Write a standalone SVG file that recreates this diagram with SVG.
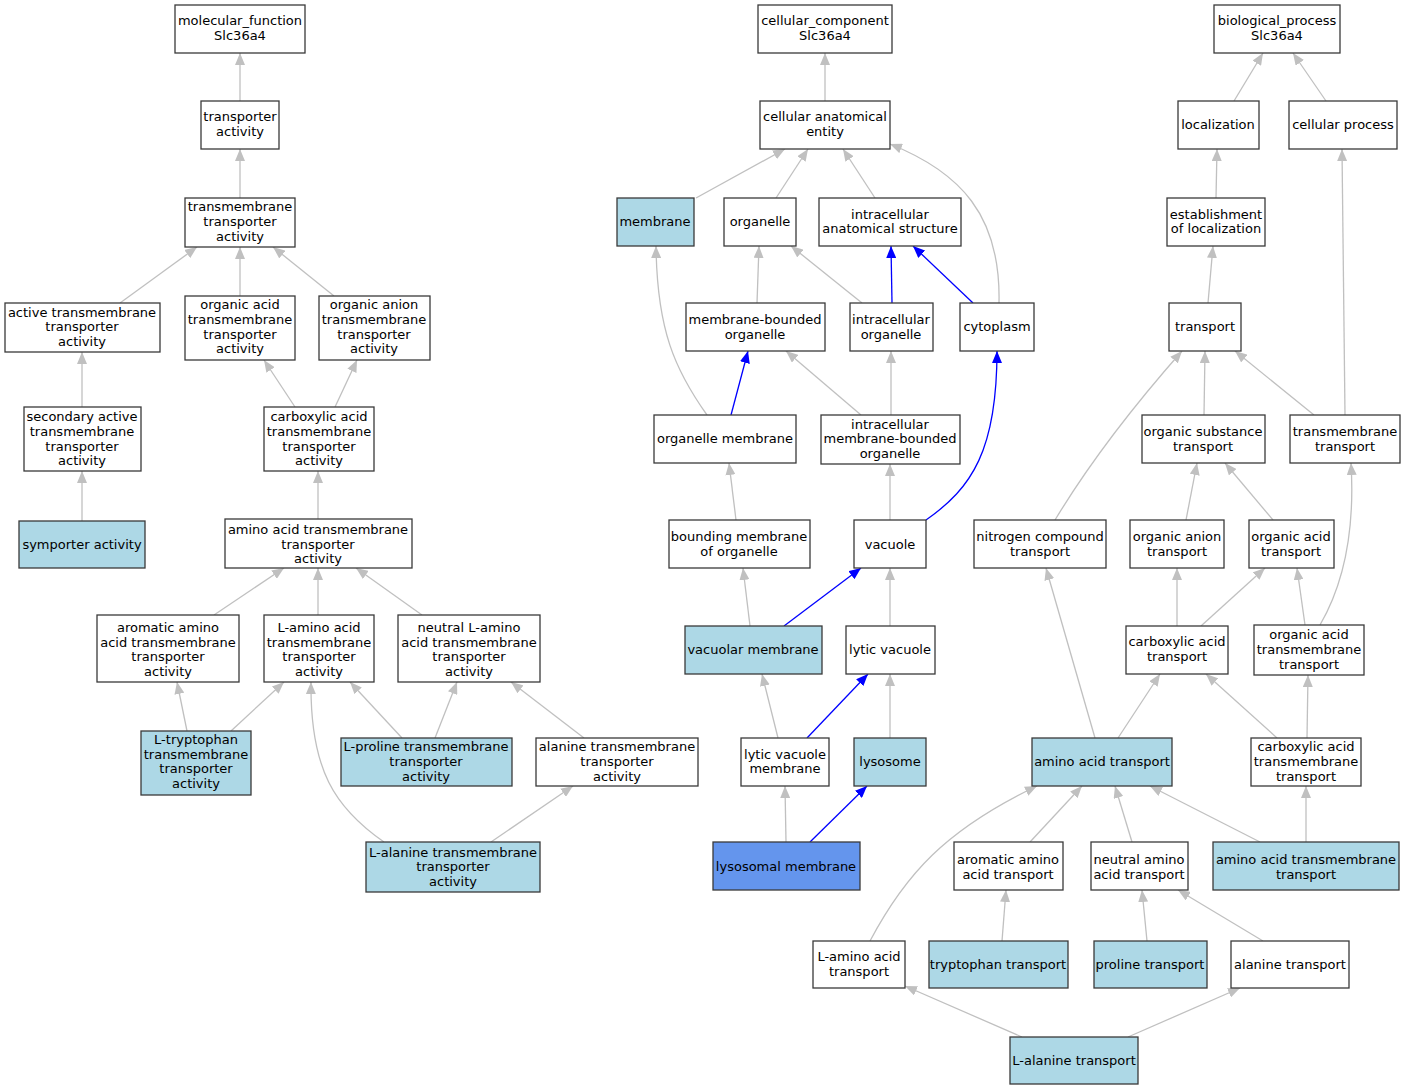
<svg xmlns="http://www.w3.org/2000/svg" width="1405" height="1091" viewBox="0 0 1405 1091">
<style>
rect{fill:#fff;stroke:#3a3a3a;stroke-width:1.3}
rect.lb{fill:#add8e6}
rect.cb{fill:#6495ed}
text{font-family:"DejaVu Sans",sans-serif;font-size:13px;fill:#000;text-anchor:middle}
.e path{fill:none;stroke:#c0c0c0;stroke-width:1.3;marker-end:url(#ag)}
.e path.b{stroke:#0000ff;marker-end:url(#ab)}
</style>
<defs>
<marker id="ag" viewBox="0 0 12 10" refX="12" refY="5" markerWidth="12" markerHeight="10" markerUnits="userSpaceOnUse" orient="auto"><path d="M0,0 L12,5 L0,10 z" fill="#c0c0c0"/></marker>
<marker id="ab" viewBox="0 0 12 10" refX="12" refY="5" markerWidth="12" markerHeight="10" markerUnits="userSpaceOnUse" orient="auto"><path d="M0,0 L12,5 L0,10 z" fill="#0000ff"/></marker>
</defs>
<rect x="0" y="0" width="1405" height="1091" style="fill:#fff;stroke:none"/>
<g class="e" id="connectors">
<path d="M240,101 L240,53"/>
<path d="M240,198 L240,149"/>
<path d="M120,303 L197,247"/>
<path d="M240,296 L240,247"/>
<path d="M334,296 L273,247"/>
<path d="M82,407 L82,352"/>
<path d="M295,407 L264,360"/>
<path d="M335,407 L357,360"/>
<path d="M82,521 L82,471"/>
<path d="M318,519 L318,471"/>
<path d="M214,615 L284,568"/>
<path d="M318,615 L318,568"/>
<path d="M422,615 L356,568"/>
<path d="M187,731 L177,682"/>
<path d="M231,731 L284,682"/>
<path d="M402,738 L350,682"/>
<path d="M435,738 L457,682"/>
<path d="M584,738 L511,682"/>
<path d="M384,842 C335,808 310,770 311,682"/>
<path d="M491,842 L573,786"/>
<path d="M825,101 L825,53"/>
<path d="M696,198 L785,149"/>
<path d="M776,198 L808,149"/>
<path d="M875,198 L843,149"/>
<path d="M999,303 C1001,215 960,172 890,144"/>
<path d="M757,303 L759,246"/>
<path d="M862,303 L791,246"/>
<path class="b" d="M892,303 L891,246"/>
<path class="b" d="M973,303 L913,246"/>
<path d="M707,415 C675,370 657,330 656,246"/>
<path class="b" d="M731,415 L748,351"/>
<path d="M861,415 L786,351"/>
<path d="M891,415 L891,351"/>
<path d="M736,520 L729,463"/>
<path d="M890,520 L890,464"/>
<path class="b" d="M926,520 C972,488 997,450 997,351"/>
<path d="M750,626 L743,568"/>
<path class="b" d="M784,626 L861,568"/>
<path d="M890,626 L890,568"/>
<path d="M778,738 L762,674"/>
<path class="b" d="M807,738 L868,674"/>
<path d="M890,738 L890,674"/>
<path d="M786,842 L785,786"/>
<path class="b" d="M810,842 L867,786"/>
<path d="M1234,101 L1263,53"/>
<path d="M1326,101 L1293,53"/>
<path d="M1216,198 L1217,149"/>
<path d="M1208,303 L1213,246"/>
<path d="M1204,415 L1205,351"/>
<path d="M1314,415 L1235,351"/>
<path d="M1345,415 L1342,149"/>
<path d="M1055,520 C1090,462 1130,410 1182,351"/>
<path d="M1186,520 L1197,463"/>
<path d="M1273,520 L1225,463"/>
<path d="M1320,625 C1345,582 1355,530 1351,463"/>
<path d="M1177,626 L1177,568"/>
<path d="M1201,626 L1265,568"/>
<path d="M1305,625 L1297,568"/>
<path d="M1095,738 L1046,568"/>
<path d="M1118,738 L1160,674"/>
<path d="M1277,738 L1206,674"/>
<path d="M1307,738 L1308,675"/>
<path d="M1030,842 L1082,786"/>
<path d="M1132,842 L1115,786"/>
<path d="M1260,842 L1150,786"/>
<path d="M1306,842 L1306,786"/>
<path d="M870,941 C905,875 945,830 1037,786"/>
<path d="M1002,941 L1006,890"/>
<path d="M1147,941 L1142,890"/>
<path d="M1263,941 L1178,890"/>
<path d="M1022,1037 L905,986"/>
<path d="M1128,1037 L1240,988"/>
</g>

<g id="n_mf"><rect x="175" y="5" width="130" height="48"/><text x="240" y="25">molecular_function</text><text x="240" y="40">Slc36a4</text></g>
<g id="n_ta"><rect x="201" y="101" width="78" height="48"/><text x="240" y="121">transporter</text><text x="240" y="136">activity</text></g>
<g id="n_tmta"><rect x="185" y="198" width="110" height="49"/><text x="240" y="211">transmembrane</text><text x="240" y="226">transporter</text><text x="240" y="241">activity</text></g>
<g id="n_atta"><rect x="5" y="303" width="155" height="49"/><text x="82" y="317">active transmembrane</text><text x="82" y="331">transporter</text><text x="82" y="346">activity</text></g>
<g id="n_oatta"><rect x="185" y="296" width="110" height="64"/><text x="240" y="309">organic acid</text><text x="240" y="324">transmembrane</text><text x="240" y="339">transporter</text><text x="240" y="353">activity</text></g>
<g id="n_oanta"><rect x="319" y="296" width="111" height="64"/><text x="374" y="309">organic anion</text><text x="374" y="324">transmembrane</text><text x="374" y="339">transporter</text><text x="374" y="353">activity</text></g>
<g id="n_sata"><rect x="24" y="407" width="117" height="64"/><text x="82" y="421">secondary active</text><text x="82" y="436">transmembrane</text><text x="82" y="451">transporter</text><text x="82" y="465">activity</text></g>
<g id="n_catta"><rect x="264" y="407" width="110" height="64"/><text x="319" y="421">carboxylic acid</text><text x="319" y="436">transmembrane</text><text x="319" y="451">transporter</text><text x="319" y="465">activity</text></g>
<g id="n_sym"><rect class="lb" x="19" y="521" width="126" height="47"/><text x="82" y="549">symporter activity</text></g>
<g id="n_aatta"><rect x="225" y="519" width="187" height="49"/><text x="318" y="534">amino acid transmembrane</text><text x="318" y="549">transporter</text><text x="318" y="563">activity</text></g>
<g id="n_arom"><rect x="97" y="615" width="142" height="67"/><text x="168" y="632">aromatic amino</text><text x="168" y="647">acid transmembrane</text><text x="168" y="661">transporter</text><text x="168" y="676">activity</text></g>
<g id="n_laa"><rect x="264" y="615" width="110" height="67"/><text x="319" y="632">L-amino acid</text><text x="319" y="647">transmembrane</text><text x="319" y="661">transporter</text><text x="319" y="676">activity</text></g>
<g id="n_nla"><rect x="398" y="615" width="142" height="67"/><text x="469" y="632">neutral L-amino</text><text x="469" y="647">acid transmembrane</text><text x="469" y="661">transporter</text><text x="469" y="676">activity</text></g>
<g id="n_ltrp"><rect class="lb" x="141" y="731" width="110" height="64"/><text x="196" y="744">L-tryptophan</text><text x="196" y="759">transmembrane</text><text x="196" y="773">transporter</text><text x="196" y="788">activity</text></g>
<g id="n_lpro"><rect class="lb" x="341" y="738" width="171" height="48"/><text x="426" y="751">L-proline transmembrane</text><text x="426" y="766">transporter</text><text x="426" y="781">activity</text></g>
<g id="n_ala"><rect x="536" y="738" width="162" height="48"/><text x="617" y="751">alanine transmembrane</text><text x="617" y="766">transporter</text><text x="617" y="781">activity</text></g>
<g id="n_lala"><rect class="lb" x="366" y="842" width="174" height="50"/><text x="453" y="857">L-alanine transmembrane</text><text x="453" y="871">transporter</text><text x="453" y="886">activity</text></g>

<g id="n_cc"><rect x="758" y="5" width="134" height="48"/><text x="825" y="25">cellular_component</text><text x="825" y="40">Slc36a4</text></g>
<g id="n_cae"><rect x="760" y="101" width="130" height="48"/><text x="825" y="121">cellular anatomical</text><text x="825" y="136">entity</text></g>
<g id="n_mem"><rect class="lb" x="617" y="198" width="77" height="48"/><text x="655" y="226">membrane</text></g>
<g id="n_org"><rect x="724" y="198" width="72" height="48"/><text x="760" y="226">organelle</text></g>
<g id="n_ias"><rect x="819" y="198" width="142" height="48"/><text x="890" y="219">intracellular</text><text x="890" y="233">anatomical structure</text></g>
<g id="n_mbo"><rect x="686" y="303" width="139" height="48"/><text x="755" y="324">membrane-bounded</text><text x="755" y="339">organelle</text></g>
<g id="n_io"><rect x="850" y="303" width="83" height="48"/><text x="891" y="324">intracellular</text><text x="891" y="339">organelle</text></g>
<g id="n_cyt"><rect x="960" y="303" width="74" height="48"/><text x="997" y="331">cytoplasm</text></g>
<g id="n_om"><rect x="654" y="415" width="142" height="48"/><text x="725" y="443">organelle membrane</text></g>
<g id="n_imbo"><rect x="821" y="415" width="139" height="49"/><text x="890" y="429">intracellular</text><text x="890" y="443">membrane-bounded</text><text x="890" y="458">organelle</text></g>
<g id="n_bmo"><rect x="669" y="520" width="141" height="48"/><text x="739" y="541">bounding membrane</text><text x="739" y="556">of organelle</text></g>
<g id="n_vac"><rect x="854" y="520" width="72" height="48"/><text x="890" y="549">vacuole</text></g>
<g id="n_vm"><rect class="lb" x="685" y="626" width="137" height="48"/><text x="753" y="654">vacuolar membrane</text></g>
<g id="n_lv"><rect x="846" y="626" width="89" height="48"/><text x="890" y="654">lytic vacuole</text></g>
<g id="n_lvm"><rect x="741" y="738" width="88" height="48"/><text x="785" y="759">lytic vacuole</text><text x="785" y="773">membrane</text></g>
<g id="n_lys"><rect class="lb" x="854" y="738" width="72" height="48"/><text x="890" y="766">lysosome</text></g>
<g id="n_lysm"><rect class="cb" x="713" y="842" width="147" height="48"/><text x="786" y="871">lysosomal membrane</text></g>

<g id="n_bp"><rect x="1214" y="5" width="126" height="48"/><text x="1277" y="25">biological_process</text><text x="1277" y="40">Slc36a4</text></g>
<g id="n_loc"><rect x="1178" y="101" width="81" height="48"/><text x="1218" y="129">localization</text></g>
<g id="n_cp"><rect x="1289" y="101" width="108" height="48"/><text x="1343" y="129">cellular process</text></g>
<g id="n_eol"><rect x="1167" y="198" width="98" height="48"/><text x="1216" y="219">establishment</text><text x="1216" y="233">of localization</text></g>
<g id="n_tr"><rect x="1169" y="303" width="72" height="48"/><text x="1205" y="331">transport</text></g>
<g id="n_ost"><rect x="1142" y="415" width="123" height="48"/><text x="1203" y="436">organic substance</text><text x="1203" y="451">transport</text></g>
<g id="n_tmt"><rect x="1290" y="415" width="110" height="48"/><text x="1345" y="436">transmembrane</text><text x="1345" y="451">transport</text></g>
<g id="n_nct"><rect x="974" y="520" width="132" height="48"/><text x="1040" y="541">nitrogen compound</text><text x="1040" y="556">transport</text></g>
<g id="n_oant"><rect x="1130" y="520" width="94" height="48"/><text x="1177" y="541">organic anion</text><text x="1177" y="556">transport</text></g>
<g id="n_oact"><rect x="1249" y="520" width="85" height="48"/><text x="1291" y="541">organic acid</text><text x="1291" y="556">transport</text></g>
<g id="n_cat"><rect x="1126" y="626" width="102" height="48"/><text x="1177" y="646">carboxylic acid</text><text x="1177" y="661">transport</text></g>
<g id="n_oatmt"><rect x="1254" y="625" width="110" height="50"/><text x="1309" y="639">organic acid</text><text x="1309" y="654">transmembrane</text><text x="1309" y="669">transport</text></g>
<g id="n_aat"><rect class="lb" x="1032" y="738" width="140" height="48"/><text x="1102" y="766">amino acid transport</text></g>
<g id="n_catmt"><rect x="1251" y="738" width="110" height="48"/><text x="1306" y="751">carboxylic acid</text><text x="1306" y="766">transmembrane</text><text x="1306" y="781">transport</text></g>
<g id="n_aaat"><rect x="954" y="842" width="109" height="48"/><text x="1008" y="864">aromatic amino</text><text x="1008" y="879">acid transport</text></g>
<g id="n_naat"><rect x="1091" y="842" width="97" height="48"/><text x="1139" y="864">neutral amino</text><text x="1139" y="879">acid transport</text></g>
<g id="n_aatmt"><rect class="lb" x="1213" y="842" width="186" height="48"/><text x="1306" y="864">amino acid transmembrane</text><text x="1306" y="879">transport</text></g>
<g id="n_laat"><rect x="813" y="941" width="92" height="47"/><text x="859" y="961">L-amino acid</text><text x="859" y="976">transport</text></g>
<g id="n_trp"><rect class="lb" x="929" y="941" width="139" height="47"/><text x="998" y="969">tryptophan transport</text></g>
<g id="n_pro"><rect class="lb" x="1094" y="941" width="113" height="47"/><text x="1150" y="969">proline transport</text></g>
<g id="n_alat"><rect x="1231" y="941" width="118" height="47"/><text x="1290" y="969">alanine transport</text></g>
<g id="n_lalat"><rect class="lb" x="1010" y="1037" width="128" height="47"/><text x="1074" y="1065">L-alanine transport</text></g>
</svg>
